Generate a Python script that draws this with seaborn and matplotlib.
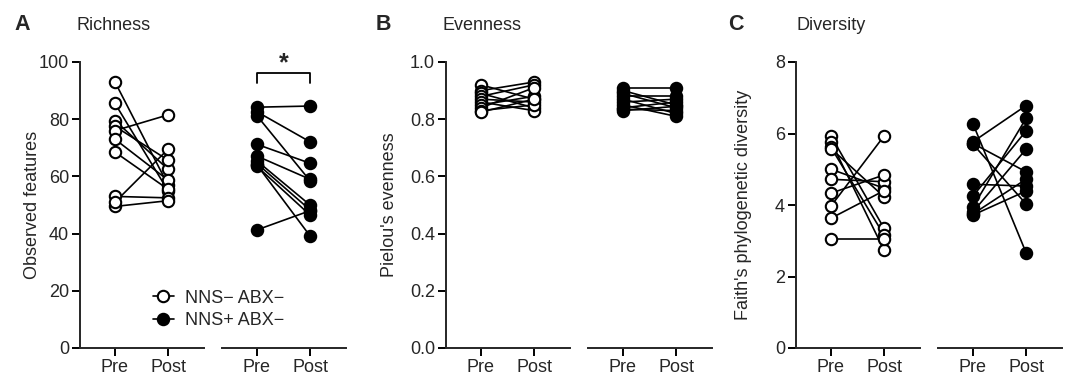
import numpy as np
import pandas as pd
import matplotlib
matplotlib.use("Agg")
import matplotlib.pyplot as plt
from matplotlib.lines import Line2D
import seaborn as sns

sns.set_style("ticks")
plt.rcParams['font.family'] = ['Liberation Sans', 'DejaVu Sans']
FS = 13

# ---------------- data ----------------
timepoints = ["Pre", "Post"]
group_labels = ["NNS\u2212 ABX\u2212", "NNS+ ABX\u2212"]

# Richness (observed features)
rich_neg_pre = [93, 85.5, 79.5, 77.5, 76, 73, 68.5, 53, 49.5, 51]
rich_neg_post = [57, 55, 62.5, 65.7, 81.5, 58.7, 55.5, 52.5, 51.5, 69.5]
rich_pos_pre = [84.2, 82.6, 81.2, 71.2, 67.1, 65.4, 64.5, 64.0, 63.5, 41.3]
rich_pos_post = [84.6, 72.1, 58.5, 64.6, 59.0, 50.0, 48.3, 39.2, 46.5, 48.0]

# Evenness (Pielou)
even_neg_pre = [0.92, 0.90, 0.89, 0.88, 0.87, 0.86, 0.85, 0.84, 0.83, 0.825]
even_neg_post = [0.87, 0.93, 0.84, 0.92, 0.86, 0.83, 0.88, 0.91, 0.85, 0.87]
even_pos_pre = [0.91, 0.90, 0.89, 0.88, 0.87, 0.86, 0.85, 0.84, 0.835, 0.83]
even_pos_post = [0.91, 0.85, 0.84, 0.88, 0.82, 0.87, 0.81, 0.86, 0.83, 0.845]

# Diversity (Faith's PD)
div_neg_pre = [5.93, 5.77, 5.61, 5.58, 5.00, 4.72, 4.33, 3.97, 3.63, 3.05]
div_neg_post = [3.35, 2.74, 3.16, 4.23, 4.47, 4.65, 4.84, 5.93, 4.40, 3.05]
div_pos_pre = [6.27, 5.77, 5.72, 5.70, 4.58, 4.25, 3.95, 3.81, 3.75, 3.72]
div_pos_post = [2.67, 6.78, 4.93, 4.03, 4.53, 6.07, 6.42, 5.56, 4.72, 4.39]

panels = [
    dict(letter="A", title="Richness", ylabel="Observed features",
         neg=(rich_neg_pre, rich_neg_post), pos=(rich_pos_pre, rich_pos_post),
         ylim=(0, 100), yticks=[0, 20, 40, 60, 80, 100], fmt="{:.0f}",
         x0=80, letter_x=14, title_x=77, ylab_x=33),
    dict(letter="B", title="Evenness", ylabel="Pielou's evenness",
         neg=(even_neg_pre, even_neg_post), pos=(even_pos_pre, even_pos_post),
         ylim=(0, 1.0), yticks=[0, 0.2, 0.4, 0.6, 0.8, 1.0], fmt="{:.1f}",
         x0=446, letter_x=376, title_x=443, ylab_x=389),
    dict(letter="C", title="Diversity", ylabel="Faith's phylogenetic diversity",
         neg=(div_neg_pre, div_neg_post), pos=(div_pos_pre, div_pos_post),
         ylim=(0, 8), yticks=[0, 2, 4, 6, 8], fmt="{:.0f}",
         x0=796, letter_x=728, title_x=796, ylab_x=744),
]


def long_df(pre, post):
    n = len(pre)
    return pd.DataFrame({
        "subject": list(range(n)) * 2,
        "t": [0] * n + [1] * n,
        "value": list(pre) + list(post),
    })


W, H = 1070, 380
fig = plt.figure(figsize=(W / 100, H / 100), dpi=100)

bottom_px, top_px = 348, 62
seg_w, gap = 124, 18
xl = (-35 / 53, (seg_w - 35) / 53)
msize = 8.2


def style_axis(ax, show_y):
    for s in ["top", "right"]:
        ax.spines[s].set_visible(False)
    ax.spines["bottom"].set_linewidth(1.4)
    ax.spines["left"].set_linewidth(1.4)
    ax.tick_params(width=1.4, length=5.5, labelsize=FS, pad=2.5, color="black")
    if not show_y:
        ax.spines["left"].set_visible(False)
        ax.tick_params(axis="y", left=False, labelleft=False)


axes_A = None
for p in panels:
    x0 = p["x0"]
    axL = fig.add_axes([x0 / W, (H - bottom_px) / H, seg_w / W, (bottom_px - top_px) / H])
    axR = fig.add_axes([(x0 + seg_w + gap) / W, (H - bottom_px) / H, seg_w / W,
                        (bottom_px - top_px) / H], sharey=axL)
    for ax, (pre, post), filled in [(axL, p["neg"], False), (axR, p["pos"], True)]:
        df = long_df(pre, post)
        sns.lineplot(data=df, x="t", y="value", units="subject", estimator=None,
                     color="black", lw=1.2, ax=ax, legend=False, zorder=2)
        sns.scatterplot(data=df, x="t", y="value", ax=ax, s=msize ** 2,
                        color="black" if filled else "white",
                        edgecolor="black", linewidth=1.5, legend=False, zorder=3,
                        clip_on=False)
        ax.set_xlim(*xl)
        ax.set_xticks([0, 1])
        ax.set_xticklabels(timepoints)
        ax.set_xlabel("")
        ax.set_ylabel("")
    axL.set_ylim(*p["ylim"])
    axL.set_yticks(p["yticks"])
    axL.set_yticklabels([p["fmt"].format(v) for v in p["yticks"]])
    axL.set_ylabel(p["ylabel"], fontsize=FS, va="center")
    axL.yaxis.set_label_coords((p["ylab_x"] - x0) / seg_w, 0.5)
    style_axis(axL, True)
    style_axis(axR, False)
    fig.text(p["letter_x"] / W, 1 - 24 / H, p["letter"], fontsize=15.5, fontweight="bold",
             va="center", ha="left")
    fig.text(p["title_x"] / W, 1 - 25 / H, p["title"], fontsize=FS, va="center", ha="left")
    if p["letter"] == "A":
        axes_A = (axL, axR)

# significance bracket in panel A
axR = axes_A[1]
axR.plot([0, 0, 1, 1], [92.5, 96.2, 96.2, 92.5], color="black", lw=1.3, clip_on=False)
axR.text(0.5, 95.4, "*", ha="center", va="bottom", fontsize=18, fontweight="bold")

# legend
handles = [
    Line2D([0], [0], color="black", lw=1.2, marker="o", markersize=msize,
           markerfacecolor="white", markeredgecolor="black", markeredgewidth=1.5),
    Line2D([0], [0], color="black", lw=1.2, marker="o", markersize=msize,
           markerfacecolor="black", markeredgecolor="black", markeredgewidth=1.5),
]
fig.legend(handles, group_labels, loc="upper left",
           bbox_to_anchor=(140 / W, 1 - 277 / H), frameon=False,
           handlelength=1.2, handletextpad=0.6, labelspacing=0.3,
           fontsize=FS, borderpad=0.2)

fig.savefig("out.png", dpi=100)
